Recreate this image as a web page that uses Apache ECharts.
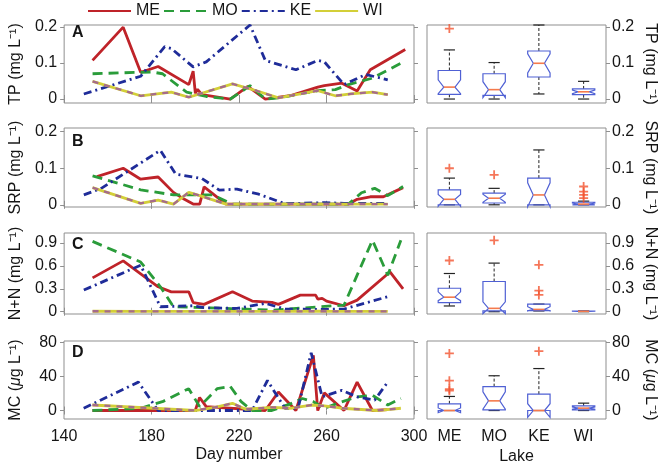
<!DOCTYPE html>
<html><head><meta charset="utf-8">
<script src="https://cdn.jsdelivr.net/npm/echarts@6/dist/echarts.min.js"></script>
<style>html,body{margin:0;padding:0;background:#fff}#c{width:666px;height:467px}</style>
</head><body><div id="c"></div>
<script>
// ---------- DATA ----------
const lakes = ['ME', 'MO', 'KE', 'WI'];
const dayTicks = [140, 180, 220, 260, 300];
const tpTicks = [0, 0.1, 0.2];
const srpTicks = [0, 0.1, 0.2];
const nnTicks = [0, 0.3, 0.6, 0.9];
const mcTicks = [0, 40, 80];

// Panel A: TP
const tpMEday = [153,167,175,183,197,199,200,201,203,216,224,232,244,256,259,267,274,280,296];
const tpME    = [0.107,0.199,0.074,0.09,0.04,0.077,0.016,0.027,0.012,0.0,0.035,0.0,0.01,0.033,0.037,0.044,0.022,0.081,0.137];
const tpMOday = [153,180,185,196,205,216,225,232,238,256,264,270,281,294];
const tpMO    = [0.07,0.075,0.07,0.019,0.007,0.0,0.037,0.0,0.003,0.023,0.026,0.04,0.058,0.099];
const tpKEday = [149,175,186,189,199,205,225,232,246,256,259,268,278,288];
const tpKE    = [0.014,0.063,0.145,0.14,0.089,0.103,0.205,0.107,0.081,0.107,0.103,0.04,0.068,0.053];
const tpWIday = [153,175,189,197,217,228,238,256,264,271,281,288];
const tpWI    = [0.049,0.009,0.019,0.005,0.042,0.023,0.003,0.023,0.009,0.014,0.019,0.012];
// box: [lowWhisker, q1, median, q3, highWhisker, notchLow, notchHigh]
const tpBox = [[0.0,0.013,0.033,0.079,0.136,0.015,0.053],[0.0,0.01,0.026,0.07,0.101,0.004,0.048],[0.014,0.061,0.099,0.133,0.205,0.072,0.125],[0.0,0.012,0.02,0.028,0.049,0.015,0.025]];
const tpOut = [[0, 0.195]];

// Panel B: SRP
const srpMEday = [155,167,175,183,190,195,199,202,204,214,240,270,274,280,286,295];
const srpME    = [0.077,0.1,0.07,0.076,0.034,0.015,0.002,0.002,0.049,0.002,0.002,0.002,0.015,0.022,0.022,0.047];
const srpMOday = [153,167,175,190,208,217,270,276,282,288,295];
const srpMO    = [0.079,0.055,0.041,0.027,0.027,0.002,0.002,0.033,0.045,0.025,0.05];
const srpKEday = [149,157,184,191,203,211,219,229,241,259,268,288];
const srpKE    = [0.027,0.045,0.149,0.084,0.072,0.04,0.043,0.029,0.003,0.006,0.004,0.004];
const srpWIday = [153,175,183,190,197,202,214,230,250,270,288];
const srpWI    = [0.047,0.004,0.013,0.002,0.034,0.025,0.002,0.002,0.002,0.002,0.002];
const srpBox = [[0,0,0.015,0.041,0.073,-0.004,0.028],[0,0.005,0.018,0.032,0.045,0.007,0.029],[0,0,0.027,0.073,0.15,-0.005,0.06],[0,0,0.002,0.007,0.01,0,0.005]];
const srpOut = [[0,0.1],[1,0.082],[3,0.05],[3,0.036],[3,0.027],[3,0.018]];

// Panel C: N+N
const nnMEday = [153,167,183,189,197,199,204,217,226,235,238,248,255,256,258,260,268,274,289,295];
const nnME    = [0.443,0.665,0.326,0.26,0.26,0.12,0.096,0.26,0.139,0.122,0.096,0.217,0.217,0.165,0.174,0.139,0.078,0.152,0.52,0.3];
const nnMOday = [153,175,184,190,214,235,268,281,288,294];
const nnMO    = [0.92,0.65,0.326,0.065,0.043,0.02,0.087,0.935,0.478,0.935];
const nnKEday = [149,175,184,199,204,219,232,241,259,268,288];
const nnKE    = [0.283,0.609,0.065,0.078,0.052,0.043,0.109,0.035,0.03,0.035,0.196];
const nnWIday = [153,175,197,217,238,256,264,280,288];
const nnWI    = [0.006,0.004,0.005,0.004,0.005,0.006,0.004,0.005,0.005];
const nnBox = [[0.075,0.118,0.19,0.307,0.5,0.145,0.26],[0,0.01,0.044,0.395,0.636,-0.025,0.13],[0.01,0.015,0.03,0.1,0.1,0.01,0.065],[0,0.003,0.005,0.008,0.01,0.003,0.007]];
const nnOut = [[0,0.67],[1,0.934],[2,0.614],[2,0.276],[2,0.22]];

// Panel D: MC
const mcMEday = [153,200,202,205,232,238,246,254,256,259,268,274,281,288];
const mcME    = [0,0,15.4,4.6,0,21.9,0,65,0,20.8,0,33.5,0,1];
const mcMOday = [153,175,185,197,202,210,216,221,226,235,244,249,254,259,265,274,281,288,294];
const mcMO    = [0,2.7,10.4,25.8,4.6,25.8,28.5,10.4,0,0,8.5,14.2,10.4,2.7,8.5,16.2,18,6.5,14.2];
const mcKEday = [149,174,183,194,226,233,241,247,253,258,267,274,282,288];
const mcKE    = [2.7,33.5,0,0,0,35.4,2.7,2.7,68,16.2,23.8,16.2,12.3,33.5];
const mcWIday = [153,200,209,217,223,235,244,253,259,267,283,294];
const mcWI    = [6.5,0,3.8,8.5,1.5,3.8,2.7,6.5,5.4,2.7,0,2.7];
const mcBox = [[0,0,0,7.9,16.6,-2.5,3],[0,0.8,11.4,28.2,41,1.5,22],[0,0,0,19.3,49.5,-8,8],[0,0.8,2.8,5.5,8.7,1.5,4.2]];
const mcOut = [[0,67.3],[0,35.2],[0,25.3],[0,23.4],[2,70]];

// ---------- CHART ----------
const FONT = '"Liberation Sans", Arial, Helvetica, sans-serif';
const TXT = '#151515';
const FRAME = '#8f8f8f';
const fmt1 = v => v === 0 ? '0' : v.toFixed(1);
const panels = [
  {letter:'A', letterTop:25, name:'TP (mg L\u207B\u00B9)', min:-0.011, max:0.205, ticks:tpTicks, fmt:fmt1, top:25, h:78,
   lines:[[tpMEday,tpME],[tpMOday,tpMO],[tpKEday,tpKE],[tpWIday,tpWI]], box:tpBox, out:tpOut},
  {letter:'B', letterTop:134, name:'SRP (mg L\u207B\u00B9)', min:-0.006, max:0.21, ticks:srpTicks, fmt:fmt1, top:128, h:79,
   lines:[[srpMEday,srpME],[srpMOday,srpMO],[srpKEday,srpKE],[srpWIday,srpWI]], box:srpBox, out:srpOut},
  {letter:'C', letterTop:237, name:'N+N (mg L\u207B\u00B9)', min:-0.03, max:1.03, ticks:nnTicks, fmt:fmt1, top:233, h:81,
   lines:[[nnMEday,nnME],[nnMOday,nnMO],[nnKEday,nnKE],[nnWIday,nnWI]], box:nnBox, out:nnOut},
  {letter:'D', letterTop:345, name:'{a|MC (}{i|\u03BC}{a|g L\u207B\u00B9)}', min:-10, max:82, ticks:mcTicks, fmt:v => String(v), top:341, h:78,
   lines:[[mcMEday,mcME],[mcMOday,mcMO],[mcKEday,mcKE],[mcWIday,mcWI]], box:mcBox, out:mcOut}
];

const lineStyles = [
  {color:'#bf2329', width:2.8, type:'solid'},
  {color:'#2a9c3a', width:2.8, type:[10,6]},
  {color:'#1f2c99', width:2.8, type:[8,4,2,4]},
  {color:'#d3cf38', width:2.8, type:'solid'}
];
const wiOverlay = {color:'#a56a8c', width:2.3, type:[6,6]};
const plusPath = 'path://M4,0H6V4H10V6H6V10H4V6H0V4H4Z';

function boxRender(params, api) {
  const k = api.value(0);
  const lo = api.value(1), q1 = api.value(2), md = api.value(3), q3 = api.value(4), hi = api.value(5), nl = api.value(6), nh = api.value(7);
  const cx = api.coord([k, md])[0];
  const y = v => api.coord([k, v])[1];
  const bw = api.size([1, 0])[0] * 0.5;
  const L = cx - bw / 2, R = cx + bw / 2, q = bw / 4;
  const wh = {stroke:'#222', lineWidth:1, lineDash:[3,2]};
  const cap = {stroke:'#222', lineWidth:1.2};
  return {type:'group', children:[
    {type:'line', shape:{x1:cx, y1:y(q3), x2:cx, y2:y(hi)}, style:wh},
    {type:'line', shape:{x1:cx, y1:y(q1), x2:cx, y2:y(lo)}, style:wh},
    {type:'line', shape:{x1:cx - q, y1:y(hi), x2:cx + q, y2:y(hi)}, style:cap},
    {type:'line', shape:{x1:cx - q, y1:y(lo), x2:cx + q, y2:y(lo)}, style:cap},
    {type:'polygon', shape:{points:[[L,y(q1)],[L,y(nl)],[L+q,y(md)],[L,y(nh)],[L,y(q3)],[R,y(q3)],[R,y(nh)],[R-q,y(md)],[R,y(nl)],[R,y(q1)]]},
     style:{fill:'none', stroke:'#4f60d4', lineWidth:1.2}},
    {type:'line', shape:{x1:L + q, y1:y(md), x2:R - q, y2:y(md)}, style:{stroke:'#f57a4c', lineWidth:1.6}}
  ]};
}

const grids = [], xAxes = [], yAxes = [], series = [], titles = [];
const lblStyle = {fontSize:16, color:TXT, fontFamily:FONT};
const nameStyle = {fontSize:16, color:TXT, fontFamily:FONT,
  rich:{a:{fontSize:16, color:TXT, fontFamily:FONT}, i:{fontSize:16, color:TXT, fontFamily:FONT, fontStyle:'italic'}}};
const tickStyle = {color:FRAME, width:1};

panels.forEach((p, i) => {
  const last = i === 3;
  const gL = grids.length;
  grids.push({left:62, top:p.top, width:352, height:p.h, show:true, borderColor:FRAME, borderWidth:1});
  const gR = grids.length;
  grids.push({left:427, top:p.top, width:179, height:p.h, show:true, borderColor:FRAME, borderWidth:1});

  const xL = xAxes.length;
  xAxes.push({type:'value', gridIndex:gL, min:140, max:300, position:'bottom',
    axisLine:{show:false}, splitLine:{show:false},
    axisTick:{show:true, customValues:dayTicks, length:4, lineStyle:tickStyle},
    axisLabel:Object.assign({show:last, customValues:dayTicks, margin:10}, lblStyle),
    name:last ? 'Day number' : '', nameLocation:'middle', nameGap:28, nameTextStyle:lblStyle});
  xAxes.push({type:'value', gridIndex:gL, min:140, max:300, position:'top',
    axisLine:{show:false}, splitLine:{show:false},
    axisTick:{show:true, customValues:dayTicks, length:4, lineStyle:tickStyle},
    axisLabel:{show:false}});
  const xR = xAxes.length;
  xAxes.push({type:'category', gridIndex:gR, data:lakes, position:'bottom',
    axisLine:{show:false}, axisTick:{show:false}, splitLine:{show:false},
    axisLabel:Object.assign({show:last, margin:10}, lblStyle),
    name:last ? 'Lake' : '', nameLocation:'middle', nameGap:30, nameTextStyle:lblStyle});

  const yL = yAxes.length;
  yAxes.push({type:'value', gridIndex:gL, min:p.min, max:p.max, position:'left',
    axisLine:{show:false}, splitLine:{show:false},
    axisTick:{show:true, customValues:p.ticks, length:4, lineStyle:tickStyle},
    axisLabel:Object.assign({customValues:p.ticks, formatter:p.fmt, margin:7}, lblStyle),
    name:p.name, nameLocation:'middle', nameRotate:90, nameGap:40, nameTextStyle:nameStyle});
  yAxes.push({type:'value', gridIndex:gL, min:p.min, max:p.max, position:'right',
    axisLine:{show:false}, splitLine:{show:false},
    axisTick:{show:true, customValues:p.ticks, length:4, lineStyle:tickStyle},
    axisLabel:{show:false}});
  const yR = yAxes.length;
  yAxes.push({type:'value', gridIndex:gR, min:p.min, max:p.max, position:'right',
    axisLine:{show:false}, splitLine:{show:false},
    axisTick:{show:true, customValues:p.ticks, length:4, lineStyle:tickStyle},
    axisLabel:Object.assign({customValues:p.ticks, formatter:p.fmt, margin:6}, lblStyle),
    name:p.name, nameLocation:'middle', nameRotate:-90, nameGap:36, nameTextStyle:nameStyle});

  p.lines.forEach(([d, v], k) => {
    series.push({type:'line', name:lakes[k], xAxisIndex:xL, yAxisIndex:yL,
      data:d.map((x, j) => [x, v[j]]), symbol:'none', showSymbol:false, silent:true,
      lineStyle:lineStyles[k], itemStyle:{color:lineStyles[k].color}, z:2 + k});
    if (k === 3) {
      series.push({type:'line', name:'WI overlay', xAxisIndex:xL, yAxisIndex:yL,
        data:d.map((x, j) => [x, v[j]]), symbol:'none', showSymbol:false, silent:true,
        lineStyle:wiOverlay, itemStyle:{color:wiOverlay.color}, z:7});
    }
  });

  series.push({type:'custom', xAxisIndex:xR, yAxisIndex:yR, silent:true, renderItem:boxRender,
    encode:{x:0, y:[1,2,3,4,5,6,7]}, data:p.box.map((b, k) => [k].concat(b)), z:3});
  series.push({type:'scatter', xAxisIndex:xR, yAxisIndex:yR, silent:true, data:p.out,
    symbol:plusPath, symbolSize:9, itemStyle:{color:'#f2542f'}, z:4});

  titles.push({text:p.letter, left:72, top:p.letterTop, padding:0,
    textStyle:{fontSize:16, fontWeight:'bold', color:TXT, fontFamily:FONT}});
});

const chart = echarts.init(document.getElementById('c'), null, {renderer:'canvas'});
chart.setOption({
  animation:false,
  backgroundColor:'#fff',
  title:titles,
  legend:{data:lakes, left:87, top:3, padding:0, itemWidth:43, itemHeight:14, itemGap:3, selectedMode:false,
    itemStyle:{opacity:0, borderWidth:0},
    textStyle:{fontSize:16, color:TXT, fontFamily:FONT}},
  grid:grids, xAxis:xAxes, yAxis:yAxes, series:series
});
</script></body></html>
